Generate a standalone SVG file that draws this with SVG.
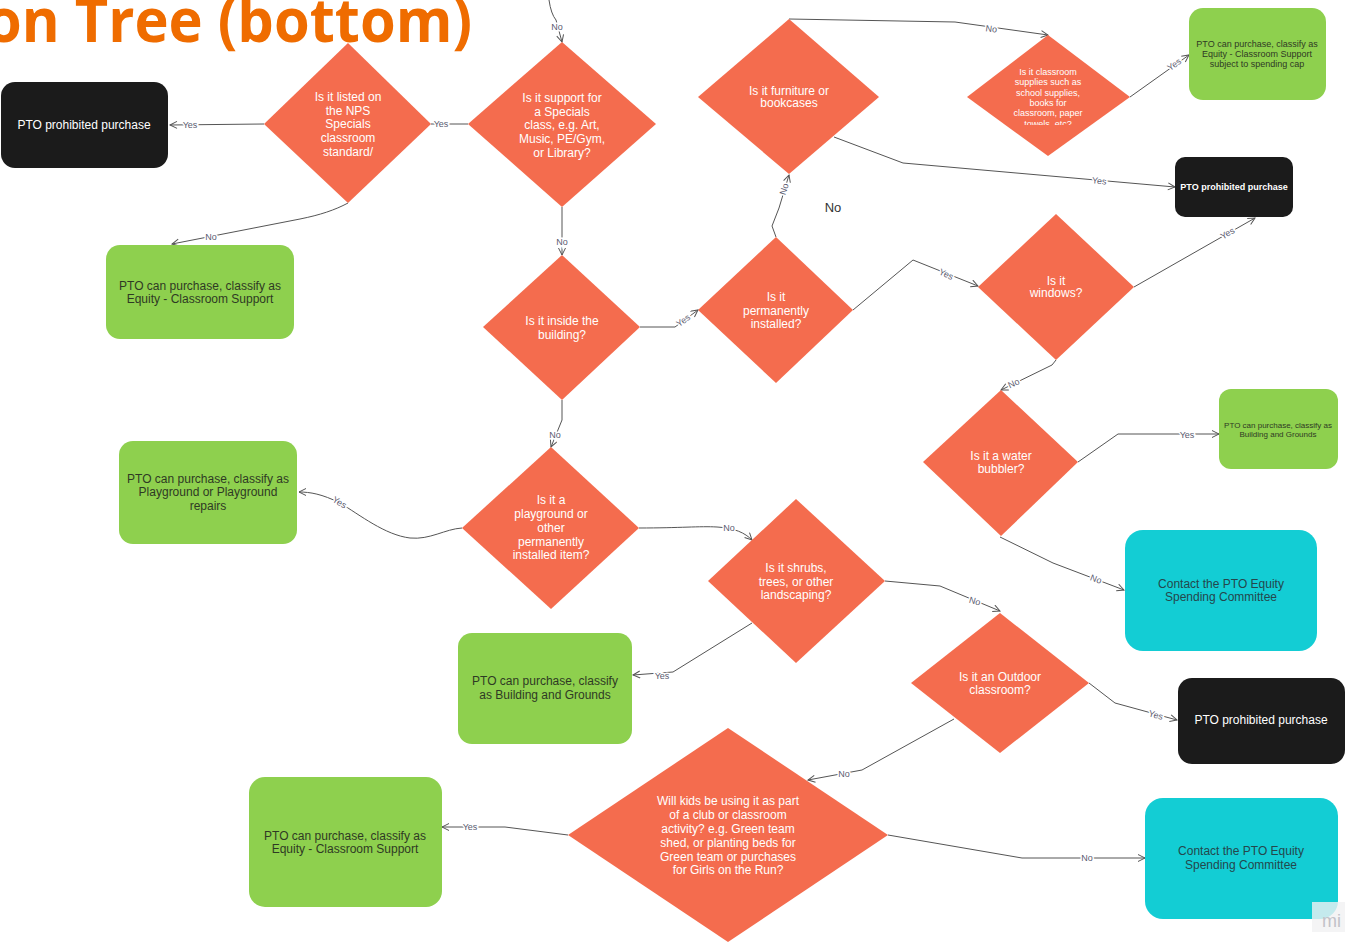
<svg xmlns="http://www.w3.org/2000/svg" width="1345" height="943" viewBox="0 0 1345 943">
<style>
.dia{fill:#F46C4E}
.dt{font-family:"Liberation Sans",Arial,sans-serif;font-size:12px;fill:#fff;text-anchor:middle}
.dts{font-family:"Liberation Sans",Arial,sans-serif;font-size:9px;fill:#fff;text-anchor:middle}
.green{fill:#8ED04E}
.cyan{fill:#13CDD4}
.black{fill:#1B1B1B}
.gt{font-family:"Liberation Sans",Arial,sans-serif;font-size:12px;fill:#2e3a24;text-anchor:middle}
.gt9{font-family:"Liberation Sans",Arial,sans-serif;font-size:9px;fill:#2e3a24;text-anchor:middle}
.gt8{font-family:"Liberation Sans",Arial,sans-serif;font-size:8px;fill:#2e3a24;text-anchor:middle}
.ct{font-family:"Liberation Sans",Arial,sans-serif;font-size:12px;fill:#24474c;text-anchor:middle}
.wt{font-family:"Liberation Sans",Arial,sans-serif;font-size:12px;fill:#fff;text-anchor:middle}
.wt9{font-family:"Liberation Sans",Arial,sans-serif;font-size:9px;font-weight:700;fill:#fff;text-anchor:middle}
.conn path{fill:none;stroke:#555;stroke-width:1}
.arr{marker-end:url(#ah)}
.lbl{font-family:"Liberation Sans",Arial,sans-serif;font-size:9px;fill:#5b5b70;stroke:#fff;stroke-width:3;paint-order:stroke;text-anchor:middle}
</style>
<defs>
<marker id="ah" markerUnits="userSpaceOnUse" markerWidth="10" markerHeight="10" refX="8" refY="4" orient="auto">
<path d="M1,0.5 L8,4 L1,7.5" fill="none" stroke="#555" stroke-width="1"/>
</marker>
<clipPath id="d4clip"><rect x="960" y="30" width="180" height="95"/></clipPath>
</defs>
<rect width="1345" height="943" fill="#fff"/>
<text x="-14" y="42" font-family="'Open Sans','DejaVu Sans',sans-serif" font-weight="700" font-size="60" fill="#EF6C00" textLength="486" lengthAdjust="spacingAndGlyphs">on Tree (bottom)</text>

<g class="conn">
<path class="arr" d="M549,0 Q551,14 556,20 L562,42"/>
<path d="M468,124 L431,124"/>
<path class="arr" d="M264,124 L170,125"/>
<path class="arr" d="M348,203 C335,210 320,215 300,219 L172,244"/>
<path class="arr" d="M562,207 L562,255"/>
<path class="arr" d="M640,327 L675,327 L698,310"/>
<path class="arr" d="M776,237 L772,226 L779,208 L789,175"/>
<path class="arr" d="M789,19 L955,22 L1048,35"/>
<path class="arr" d="M834,137 L903,163 L1175,187"/>
<path class="arr" d="M1130,97 L1189,55"/>
<path class="arr" d="M853,310 L913,260 L978,286"/>
<path class="arr" d="M1134,287 L1255,218"/>
<path class="arr" d="M1056,360 L1052,365 L1001,390"/>
<path class="arr" d="M1078,462 L1118,434 L1219,434"/>
<path class="arr" d="M1000,537 L1053,563 L1124,590"/>
<path class="arr" d="M562,400 L562,420 L551,447"/>
<path class="arr" d="M462,528 C445,529 430,540 410,538 C385,535 360,515 340,503 C322,494 310,492 299,492"/>
<path class="arr" d="M639,528 C680,528 700,526 717,527 C735,528 745,533 752,540"/>
<path class="arr" d="M752,623 L673,672 L633,675"/>
<path class="arr" d="M885,581 L940,586 L1000,611"/>
<path class="arr" d="M1089,683 L1115,703 L1177,720"/>
<path class="arr" d="M954,719 L862,770 L808,780"/>
<path class="arr" d="M568,835 L505,827 L442,827"/>
<path class="arr" d="M888,835 L1022,858 L1145,858"/>
<text class="lbl" x="557" y="30">No</text>
<text class="lbl" x="441" y="127">Yes</text>
<text class="lbl" x="190" y="128">Yes</text>
<text class="lbl" x="211" y="240">No</text>
<text class="lbl" x="562" y="245">No</text>
<text class="lbl" transform="translate(685,323) rotate(-35)">Yes</text>
<text class="lbl" transform="translate(787,190) rotate(-72)">No</text>
<text class="lbl" transform="translate(991,32) rotate(7)">No</text>
<text class="lbl" transform="translate(1099,184) rotate(5)">Yes</text>
<text class="lbl" transform="translate(1176,67) rotate(-35)">Yes</text>
<text class="lbl" transform="translate(945,277) rotate(25)">Yes</text>
<text class="lbl" transform="translate(1229,236) rotate(-30)">Yes</text>
<text class="lbl" transform="translate(1015,386) rotate(-25)">No</text>
<text class="lbl" x="1187" y="438">Yes</text>
<text class="lbl" transform="translate(1095,582) rotate(20)">No</text>
<text class="lbl" x="555" y="438">No</text>
<text class="lbl" transform="translate(338,505) rotate(30)">Yes</text>
<text class="lbl" x="729" y="531">No</text>
<text class="lbl" x="662" y="679">Yes</text>
<text class="lbl" transform="translate(974,604) rotate(15)">No</text>
<text class="lbl" transform="translate(1155,718) rotate(15)">Yes</text>
<text class="lbl" x="844" y="777">No</text>
<text class="lbl" x="470" y="830">Yes</text>
<text class="lbl" x="1087" y="861">No</text>
</g>

<g id="d1"><polygon class="dia" points="348,43 431,124 348,203 264,124"/>
<text class="dt"><tspan x="348" y="101">Is it listed on</tspan><tspan x="348" y="115">the NPS</tspan><tspan x="348" y="128">Specials</tspan><tspan x="348" y="142">classroom</tspan><tspan x="348" y="156">standard/</tspan></text></g>
<g id="d2"><polygon class="dia" points="562,42 656,124 562,207 468,124"/>
<text class="dt"><tspan x="562" y="102">Is it support for</tspan><tspan x="562" y="116">a Specials</tspan><tspan x="562" y="129">class, e.g. Art,</tspan><tspan x="562" y="143">Music, PE/Gym,</tspan><tspan x="562" y="157">or Library?</tspan></text></g>
<g id="d3"><polygon class="dia" points="789,19 879,97 789,174 698,97"/>
<text class="dt"><tspan x="789" y="95">Is it furniture or</tspan><tspan x="789" y="107">bookcases</tspan></text></g>
<g id="d4"><polygon class="dia" points="1048,35 1130,97 1048,156 967,97"/>
<text class="dts" clip-path="url(#d4clip)"><tspan x="1048" y="75">Is it classroom</tspan><tspan x="1048" y="85">supplies such as</tspan><tspan x="1048" y="96">school supplies,</tspan><tspan x="1048" y="106">books for</tspan><tspan x="1048" y="116">classroom, paper</tspan><tspan x="1048" y="127">towels, etc?</tspan></text></g>
<g id="d5"><polygon class="dia" points="562,255 640,327 562,400 483,327"/>
<text class="dt"><tspan x="562" y="325">Is it inside the</tspan><tspan x="562" y="339">building?</tspan></text></g>
<g id="d6"><polygon class="dia" points="776,237 853,310 776,383 698,310"/>
<text class="dt"><tspan x="776" y="301">Is it</tspan><tspan x="776" y="315">permanently</tspan><tspan x="776" y="328">installed?</tspan></text></g>
<g id="d7"><polygon class="dia" points="1056,214 1134,287 1056,360 978,287"/>
<text class="dt"><tspan x="1056" y="285">Is it</tspan><tspan x="1056" y="297">windows?</tspan></text></g>
<g id="d8"><polygon class="dia" points="1001,390 1078,462 1001,536 923,462"/>
<text class="dt"><tspan x="1001" y="460">Is it a water</tspan><tspan x="1001" y="473">bubbler?</tspan></text></g>
<g id="d9"><polygon class="dia" points="551,447 639,528 551,609 462,528"/>
<text class="dt"><tspan x="551" y="504">Is it a</tspan><tspan x="551" y="518">playground or</tspan><tspan x="551" y="532">other</tspan><tspan x="551" y="546">permanently</tspan><tspan x="551" y="559">installed item?</tspan></text></g>
<g id="d10"><polygon class="dia" points="796,499 885,581 796,663 708,581"/>
<text class="dt"><tspan x="796" y="572">Is it shrubs,</tspan><tspan x="796" y="586">trees, or other</tspan><tspan x="796" y="599">landscaping?</tspan></text></g>
<g id="d11"><polygon class="dia" points="1000,613 1089,683 1000,753 911,683"/>
<text class="dt"><tspan x="1000" y="681">Is it an Outdoor</tspan><tspan x="1000" y="694">classroom?</tspan></text></g>
<g id="d12"><polygon class="dia" points="728,728 888,835 728,942 568,835"/>
<text class="dt"><tspan x="728" y="805">Will kids be using it as part</tspan><tspan x="728" y="819">of a club or classroom</tspan><tspan x="728" y="833">activity? e.g. Green team</tspan><tspan x="728" y="847">shed, or planting beds for</tspan><tspan x="728" y="861">Green team or purchases</tspan><tspan x="728" y="874">for Girls on the Run?</tspan></text></g>

<g id="r1"><rect class="black" x="1" y="82" width="167" height="86" rx="14"/>
<text class="wt" x="84" y="129">PTO prohibited purchase</text></g>
<g id="r2"><rect class="green" x="106" y="245" width="188" height="94" rx="14"/>
<text class="gt"><tspan x="200" y="290">PTO can purchase, classify as</tspan><tspan x="200" y="303">Equity - Classroom Support</tspan></text></g>
<g id="r3"><rect class="green" x="119" y="441" width="178" height="103" rx="14"/>
<text class="gt"><tspan x="208" y="483">PTO can purchase, classify as</tspan><tspan x="208" y="496">Playground or Playground</tspan><tspan x="208" y="510">repairs</tspan></text></g>
<g id="r4"><rect class="green" x="458" y="633" width="174" height="111" rx="14"/>
<text class="gt"><tspan x="545" y="685">PTO can purchase, classify</tspan><tspan x="545" y="699">as Building and Grounds</tspan></text></g>
<g id="r5"><rect class="green" x="249" y="777" width="193" height="130" rx="16"/>
<text class="gt"><tspan x="345" y="840">PTO can purchase, classify as</tspan><tspan x="345" y="853">Equity - Classroom Support</tspan></text></g>
<g id="r6"><rect class="green" x="1189" y="8" width="137" height="92" rx="14"/>
<text class="gt9"><tspan x="1257" y="47">PTO can purchase, classify as</tspan><tspan x="1257" y="57">Equity - Classroom Support</tspan><tspan x="1257" y="67">subject to spending cap</tspan></text></g>
<g id="r7"><rect class="black" x="1175" y="157" width="118" height="60" rx="10"/>
<text class="wt9" x="1234" y="190">PTO prohibited purchase</text></g>
<g id="r8"><rect class="green" x="1219" y="389" width="119" height="80" rx="12"/>
<text class="gt8"><tspan x="1278" y="428">PTO can purchase, classify as</tspan><tspan x="1278" y="437">Building and Grounds</tspan></text></g>
<g id="r9"><rect class="cyan" x="1125" y="530" width="192" height="121" rx="18"/>
<text class="ct"><tspan x="1221" y="588">Contact the PTO Equity</tspan><tspan x="1221" y="601">Spending Committee</tspan></text></g>
<g id="r10"><rect class="black" x="1178" y="678" width="167" height="86" rx="14"/>
<text class="wt" x="1261" y="724">PTO prohibited purchase</text></g>
<g id="r11"><rect class="cyan" x="1145" y="798" width="193" height="121" rx="18"/>
<text class="ct"><tspan x="1241" y="855">Contact the PTO Equity</tspan><tspan x="1241" y="869">Spending Committee</tspan></text></g>

<text x="833" y="212" font-family="'Liberation Sans',Arial,sans-serif" font-size="13" fill="#333" text-anchor="middle">No</text>
<rect x="1312" y="902" width="33" height="30" fill="#f1f1f3" opacity="0.8"/>
<text x="1322" y="927" font-family="'Liberation Sans',Arial,sans-serif" font-size="18" fill="#c2c2c8">mi</text>
</svg>
